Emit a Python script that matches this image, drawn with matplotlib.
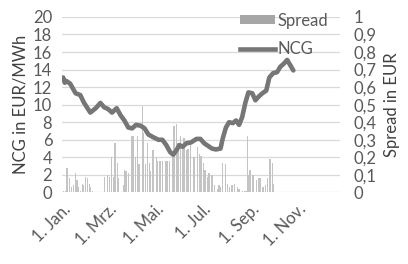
import matplotlib
matplotlib.use("Agg")
import matplotlib.pyplot as plt
from matplotlib.patches import Patch
from matplotlib.lines import Line2D
from matplotlib.ticker import FuncFormatter, MultipleLocator

# NCG Preis (Tag im Jahr, EUR/MWh)
ncg_day = [1, 3, 5, 10, 17, 23, 28, 36, 43, 49, 54, 59, 64, 70, 75, 80, 85, 90, 95,
           101, 106, 111, 117, 124, 129, 134, 139, 143, 147, 151, 155, 160, 166,
           173, 178, 183, 188, 193, 198, 204, 207, 211, 215, 220, 224, 228, 232,
           236, 240, 245, 249, 253, 258, 263, 267, 272, 277, 281, 286, 290, 294, 298]
ncg_val = [13.1, 12.5, 12.7, 12.4, 11.3, 11.1, 10.2, 9.1, 9.6, 10.2, 9.7, 9.5, 9.1, 9.6,
           8.8, 8.2, 7.4, 7.3, 7.7, 7.6, 7.3, 6.6, 6.3, 6.0, 6.0, 5.4, 4.6, 4.3,
           4.8, 5.4, 5.2, 5.6, 5.7, 6.1, 6.1, 5.6, 5.3, 5.0, 4.9, 5.0, 6.2, 7.4,
           8.0, 7.9, 8.2, 7.7, 8.6, 10.2, 11.4, 11.3, 10.5, 10.9, 11.3, 11.6,
           13.1, 13.6, 13.7, 14.3, 14.7, 15.1, 14.5, 13.9]

# Spread (Tag im Jahr, EUR)
spread_day = [1, 4, 6, 9, 12, 14, 17, 19, 21, 23, 26, 27, 30, 32, 35, 36, 39, 41,
              44, 46, 49, 52, 54, 58, 61, 63, 66, 68, 71, 72, 75, 79, 80, 82, 85,
              89, 91, 94, 97, 99, 103, 104, 107, 110, 112, 113, 116, 117, 121, 122,
              126, 129, 133, 135, 138, 142, 144, 147, 149, 152, 155, 157, 160, 162,
              165, 169, 170, 174, 177, 179, 182, 184, 187, 189, 193, 196, 200, 202,
              204, 207, 210, 213, 216, 219, 222, 226, 228, 232, 235, 237, 239, 240,
              242, 245, 246, 250, 253, 255, 259, 262, 265, 268, 271, 272,
              275, 277, 280, 282, 285, 287, 290, 292, 295, 297]
spread_val = [0.01, 0.01, 0.14, 0.08, 0.03, 0.04, 0.11, 0.07, 0.03, 0.01, 0.05,
              0.04, 0.09, 0.08, 0.05, 0.03, 0.01, 0.005, 0.005, 0.005, 0.005, 0.005,
              0.09, 0.10, 0.09, 0.20, 0.09, 0.28, 0.17, 0.08, 0.005, 0.04, 0.13,
              0.12, 0.11, 0.32, 0.32, 0.20, 0.32, 0.16, 0.49, 0.34, 0.16, 0.28,
              0.17, 0.12, 0.18, 0.24, 0.20, 0.18, 0.18, 0.18, 0.18, 0.18, 0.18,
              0.20, 0.38, 0.39, 0.28, 0.32, 0.25, 0.31, 0.24, 0.25, 0.28, 0.18,
              0.20, 0.26, 0.22, 0.21, 0.17, 0.13, 0.09, 0.11, 0.10, 0.04, 0.02,
              0.04, 0.03, 0.17, 0.16, 0.05, 0.03, 0.04, 0.05, 0.03, 0.02, 0.01,
              0.01, 0.01, 0.32, 0.10, 0.13, 0.09, 0.10, 0.07, 0.08, 0.08, 0.03,
              0.04, 0.08, 0.19, 0.17, 0.05,
              0.005, 0.005, 0.005, 0.005, 0.005, 0.005, 0.005, 0.005, 0.005, 0.005]

tick_days = [0, 59, 120, 181, 243, 304]
tick_labels = ["1. Jan.", "1. Mrz.", "1. Mai.", "1. Jul.", "1. Sep.", "1. Nov."]

plt.rcParams["font.family"] = ["Lato", "DejaVu Sans"]
txt = "#595959"
fs = 12

fig = plt.figure(figsize=(4.08, 2.64), dpi=100)
ax = fig.add_axes([0.152, 0.271, 0.681, 0.665])
ax2 = ax.twinx()
ax.set_zorder(ax2.get_zorder() + 1)
ax.patch.set_visible(False)

# Balken (rechte Achse)
ax2.bar(spread_day, spread_val, width=1.7, color="#C4C4C4", linewidth=0)
ax2.set_ylim(0, 1)
ax2.yaxis.set_major_locator(MultipleLocator(0.1))
ax2.yaxis.set_major_formatter(FuncFormatter(
    lambda v, p: f"{v:.1f}".replace(".", ",") if 0.001 < v < 0.999 else f"{v:.0f}"))
ax2.grid(axis="y", color="#D9D9D9", linewidth=0.9)
ax2.set_axisbelow(True)

# Linie (linke Achse)
ax.plot(ncg_day, ncg_val, color="#767676", linewidth=3.3, solid_capstyle="round",
        solid_joinstyle="round")
ax.set_ylim(0, 20)
ax.yaxis.set_major_locator(MultipleLocator(2))
ax.set_xlim(-0.5, 358)
ax.set_xticks(tick_days)
ax.set_xticklabels(tick_labels, rotation=45, ha="right", rotation_mode="anchor")

for a in (ax, ax2):
    for s in a.spines.values():
        s.set_visible(False)
    a.tick_params(length=0, labelsize=fs, colors=txt)

ax.tick_params(axis="y", pad=7)
ax2.tick_params(axis="y", pad=10)
ax.tick_params(axis="x", pad=6)

ax.set_ylabel("NCG in EUR/MWh", fontsize=fs, color="#404040", labelpad=3)
ax2.set_ylabel("Spread in EUR", fontsize=fs, color="#404040", labelpad=5)

handles = [Patch(facecolor="#A6A6A6", edgecolor="none"),
           Line2D([], [], color="#767676", linewidth=3.3)]
ax.legend(handles, ["Spread", "NCG"], loc="upper right", bbox_to_anchor=(1.01, 1.11),
          frameon=False, fontsize=fs, handlelength=2.1, handleheight=0.45,
          handletextpad=0.1, labelspacing=0.75, labelcolor=txt)

fig.savefig("out.png", dpi=100)
